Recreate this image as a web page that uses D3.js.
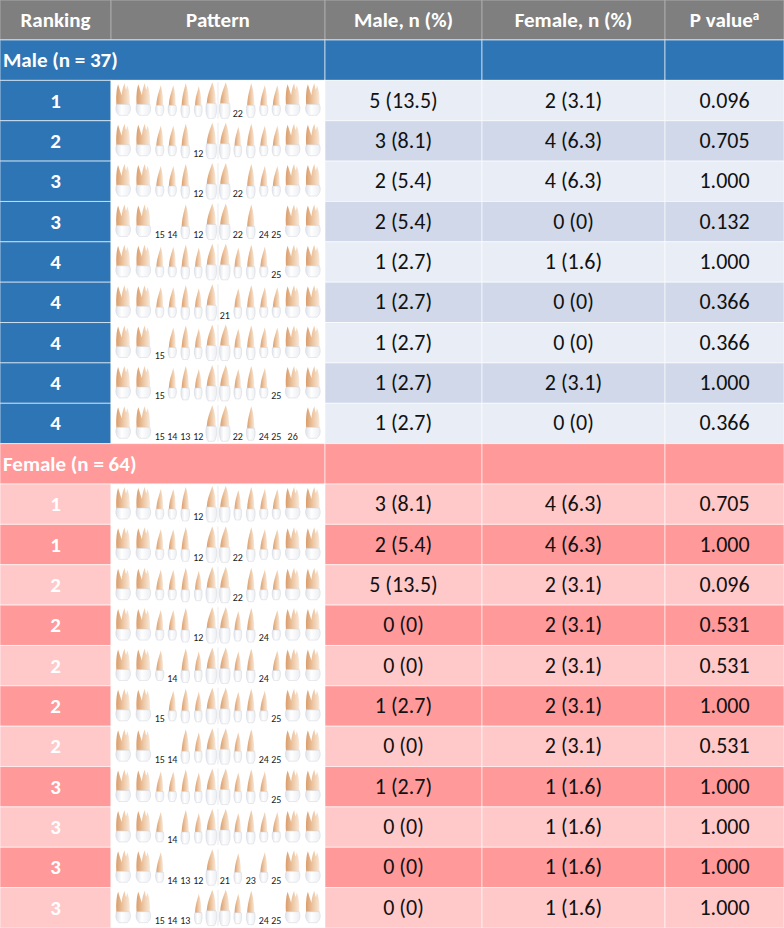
<!DOCTYPE html>
<html lang="en">
<head>
  <meta charset="UTF-8" />
  <title>Missing tooth patterns</title>
  <script src="https://d3js.org/d3.v7.min.js"></script>
  <style>
    html, body {
      margin: 0;
      padding: 0;
      background: #fff;
      font-family: Carlito, Lato, 'Open Sans', sans-serif;
    }
    svg { display: block; }
  </style>
</head>
<body>
  <svg id="chart" width="784" height="928"></svg>
  <script>
    // ---- data ----
    const columns = ["Ranking", "Pattern", "Male, n (%)", "Female, n (%)", "P value"];
    const groupLabels = ["Male (n = 37)", "Female (n = 64)"];
    const toothOrder = [17, 16, 15, 14, 13, 12, 11, 21, 22, 23, 24, 25, 26, 27];

    const maleRanking = [1, 2, 3, 3, 4, 4, 4, 4, 4];
    const maleMissing = [[22], [12], [12, 22], [15, 14, 12, 22, 24, 25], [25], [21], [15], [15, 25],
                         [15, 14, 13, 12, 22, 24, 25, 26]];
    const maleMaleN = ["5 (13.5)", "3 (8.1)", "2 (5.4)", "2 (5.4)", "1 (2.7)", "1 (2.7)", "1 (2.7)", "1 (2.7)", "1 (2.7)"];
    const maleFemaleN = ["2 (3.1)", "4 (6.3)", "4 (6.3)", "0 (0)", "1 (1.6)", "0 (0)", "0 (0)", "2 (3.1)", "0 (0)"];
    const maleP = ["0.096", "0.705", "1.000", "0.132", "1.000", "0.366", "0.366", "1.000", "0.366"];

    const femaleRanking = [1, 1, 2, 2, 2, 2, 2, 3, 3, 3, 3];
    const femaleMissing = [[12], [12, 22], [22], [12, 24], [14, 24], [15, 25], [15, 14, 24, 25], [25], [14],
                           [14, 13, 12, 21, 23, 25], [15, 14, 13, 24, 25]];
    const femaleMaleN = ["3 (8.1)", "2 (5.4)", "5 (13.5)", "0 (0)", "0 (0)", "1 (2.7)", "0 (0)", "1 (2.7)", "0 (0)", "0 (0)", "0 (0)"];
    const femaleFemaleN = ["4 (6.3)", "4 (6.3)", "2 (3.1)", "2 (3.1)", "2 (3.1)", "2 (3.1)", "2 (3.1)", "1 (1.6)", "1 (1.6)", "1 (1.6)", "1 (1.6)"];
    const femaleP = ["0.705", "1.000", "0.096", "0.531", "0.531", "1.000", "0.531", "1.000", "1.000", "1.000", "1.000"];

    // ---- build rows ----
    const rows = [];
    rows.push({ kind: "group", group: 0, label: groupLabels[0] });
    maleRanking.forEach((r, i) => rows.push({ kind: "data", group: 0, i, rank: r, missing: maleMissing[i],
      cells: [maleMaleN[i], maleFemaleN[i], maleP[i]] }));
    rows.push({ kind: "group", group: 1, label: groupLabels[1] });
    femaleRanking.forEach((r, i) => rows.push({ kind: "data", group: 1, i, rank: r, missing: femaleMissing[i],
      cells: [femaleMaleN[i], femaleFemaleN[i], femaleP[i]] }));

    const W = 784, H = 928, headerH = 40;
    const svg = d3.select("#chart");
    const colEdges = [0, 111, 325, 482, 665, 784];
    const y = d3.scaleLinear().domain([0, rows.length]).range([headerH, H]);
    const rowH = y(1) - y(0);
    const headSize = 21, bodySize = 22;

    const colors = {
      header: "#7f7f7f",
      blue: "#2e75b6",
      maleLight: "#e9edf5",
      maleDark: "#d0d8ea",
      pinkDark: "#ff999a",
      pinkLight: "#ffc9c9"
    };

    // ---- teeth helpers ----
    function toothType(t) {
      const d = t % 10;
      return d >= 6 ? "molar" : d >= 4 ? "premolar" : d === 3 ? "canine" : d === 2 ? "lateral" : "central";
    }
    const typeWidth = { molar: 21, premolar: 13, canine: 14, lateral: 13, central: 14 };
    const cum = [];
    let acc = 0;
    toothOrder.forEach(t => { const w = typeWidth[toothType(t)]; cum.push(acc + w / 2); acc += w; });
    const xTooth = d3.scaleLinear().domain([0, acc]).range([colEdges[1] + 2, colEdges[2] - 2]);

    function singleRoot(hw, tip, base, lean) {
      return `M${-hw},${base} C${-hw},${base - 10} ${-hw * 0.4 + lean},${tip + 6} ${lean},${tip} ` +
             `C${hw * 0.5 + lean},${tip + 6} ${hw},${base - 12} ${hw},${base} Z`;
    }
    function molarRoot(hw, tip, base) {
      return `M${-hw},${base} C${-hw - 1},${base - 9} ${-hw},${tip + 4} ${-hw + 1.5},${tip} ` +
             `C${-hw + 3},${tip + 5} ${-2},${tip + 9} ${-1.5},${tip + 11} ` +
             `C${-1},${tip + 6} ${0},${tip + 2} ${1.5},${tip - 1} ` +
             `C${2.5},${tip + 5} ${3},${tip + 8} ${hw - 2.5},${tip + 1} ` +
             `C${hw},${tip + 6} ${hw + 0.5},${base - 8} ${hw},${base} Z`;
    }
    function crown(hw, top, bottom) {
      return `M${-hw * 0.85},${top} C${-hw * 1.05},${top + 3} ${-hw * 1.05},${bottom - 3} ${-hw * 0.55},${bottom} ` +
             `L${hw * 0.55},${bottom} C${hw * 1.05},${bottom - 3} ${hw * 1.05},${top + 3} ${hw * 0.85},${top} Z`;
    }

    function drawPattern(g, missing) {
      const mid = (xTooth(cum[6]) + xTooth(cum[7])) / 2;
      g.append("line").attr("x1", mid).attr("x2", mid).attr("y1", 2).attr("y2", rowH - 2)
        .attr("stroke", "#e6e6e6").attr("stroke-width", 0.8);
      toothOrder.forEach((t, k) => {
        const cx = xTooth(cum[k]);
        const type = toothType(t);
        if (missing.includes(t)) {
          g.append("text").attr("x", cx).attr("y", rowH - 4)
            .attr("text-anchor", "middle").attr("font-size", 10).attr("fill", "#222")
            .text(t);
          return;
        }
        const tg = g.append("g").attr("transform", `translate(${cx},0)`);
        let rootD, crownD;
        if (type === "molar") {
          rootD = molarRoot(6.5, 4, 26);
          crownD = crown(7.5, 24, 35);
        } else if (type === "central") {
          rootD = singleRoot(4.5, 2, 25, 1);
          crownD = crown(5.5, 23, 38);
        } else if (type === "canine") {
          rootD = singleRoot(3.6, 3, 27, 0.5);
          crownD = crown(4.5, 25, 37);
        } else if (type === "lateral") {
          rootD = singleRoot(3.2, 6, 27, 0.5);
          crownD = crown(4, 25, 36);
        } else {
          rootD = singleRoot(3.4, 5, 27, 1);
          crownD = crown(4.3, 25, 35);
        }
        tg.append("path").attr("d", rootD).attr("fill", "url(#root)");
        tg.append("path").attr("d", crownD).attr("fill", "url(#crown)")
          .attr("stroke", "#d0d4dc").attr("stroke-width", 0.5);
      });
    }

    // defs: gradients for teeth
    const defs = svg.append("defs");
    const rg = defs.append("linearGradient").attr("id", "root").attr("x1", 0).attr("x2", 1).attr("y1", 0).attr("y2", 0);
    rg.append("stop").attr("offset", "0%").attr("stop-color", "#d99d6c");
    rg.append("stop").attr("offset", "50%").attr("stop-color", "#edc6a2");
    rg.append("stop").attr("offset", "100%").attr("stop-color", "#f9e9da");
    const cg = defs.append("linearGradient").attr("id", "crown").attr("x1", 0).attr("x2", 1).attr("y1", 0).attr("y2", 0);
    cg.append("stop").attr("offset", "0%").attr("stop-color", "#dfe2ea");
    cg.append("stop").attr("offset", "40%").attr("stop-color", "#ffffff");
    cg.append("stop").attr("offset", "100%").attr("stop-color", "#eceef2");

    // header
    const header = svg.append("g");
    header.selectAll("rect").data(columns).join("rect")
      .attr("x", (d, i) => colEdges[i]).attr("y", 0)
      .attr("width", (d, i) => colEdges[i + 1] - colEdges[i]).attr("height", headerH)
      .attr("fill", colors.header).attr("stroke", "#a9a9a9").attr("stroke-width", 1);
    const ht = header.selectAll("text").data(columns).join("text")
      .attr("x", (d, i) => (colEdges[i] + colEdges[i + 1]) / 2)
      .attr("y", headerH / 2 + 7)
      .attr("text-anchor", "middle")
      .attr("fill", "#fff").attr("font-weight", "bold").attr("font-size", headSize)
      .text(d => d);
    ht.filter((d, i) => i === 4).append("tspan")
      .attr("font-size", 13).attr("dy", -7).text("a");
    svg.append("line").attr("x1", 0).attr("x2", W).attr("y1", headerH).attr("y2", headerH)
      .attr("stroke", "#9dc3e6").attr("stroke-width", 1.5);

    function cellFill(row, col) {
      if (row.kind === "group") return row.group === 0 ? colors.blue : colors.pinkDark;
      const odd = row.i % 2 === 1;
      if (col === 1) return "#fff";
      if (row.group === 0) return col === 0 ? colors.blue : (odd ? colors.maleDark : colors.maleLight);
      return odd ? colors.pinkDark : colors.pinkLight;
    }

    const rowG = svg.selectAll("g.row").data(rows).join("g")
      .attr("class", "row")
      .attr("transform", (d, i) => `translate(0,${y(i)})`);

    rowG.each(function (row) {
      const g = d3.select(this);
      const cols = row.kind === "group" ? [[0, 2], [2, 3], [3, 4], [4, 5]] : [[0, 1], [1, 2], [2, 3], [3, 4], [4, 5]];
      cols.forEach(([a, b], k) => {
        const colIdx = row.kind === "group" ? (k === 0 ? 0 : k + 1) : k;
        g.append("rect")
          .attr("x", colEdges[a]).attr("y", 0)
          .attr("width", colEdges[b] - colEdges[a]).attr("height", rowH)
          .attr("fill", cellFill(row, colIdx))
          .attr("stroke", "#fff").attr("stroke-opacity", 0.6).attr("stroke-width", 1);
      });
      if (row.kind === "group") {
        g.append("text").attr("x", 3).attr("y", rowH / 2 + 7)
          .attr("fill", "#fff").attr("font-weight", "bold").attr("font-size", headSize)
          .text(row.label);
        return;
      }
      g.append("text")
        .attr("x", (colEdges[0] + colEdges[1]) / 2).attr("y", rowH / 2 + 7)
        .attr("text-anchor", "middle").attr("fill", "#fff")
        .attr("font-weight", "bold").attr("font-size", headSize)
        .text(row.rank);
      row.cells.forEach((c, k) => {
        g.append("text")
          .attr("x", (colEdges[k + 2] + colEdges[k + 3]) / 2).attr("y", rowH / 2 + 7)
          .attr("text-anchor", "middle").attr("fill", "#111").attr("font-size", bodySize)
          .text(c);
      });
      drawPattern(g, row.missing);
    });
  </script>
</body>
</html>
